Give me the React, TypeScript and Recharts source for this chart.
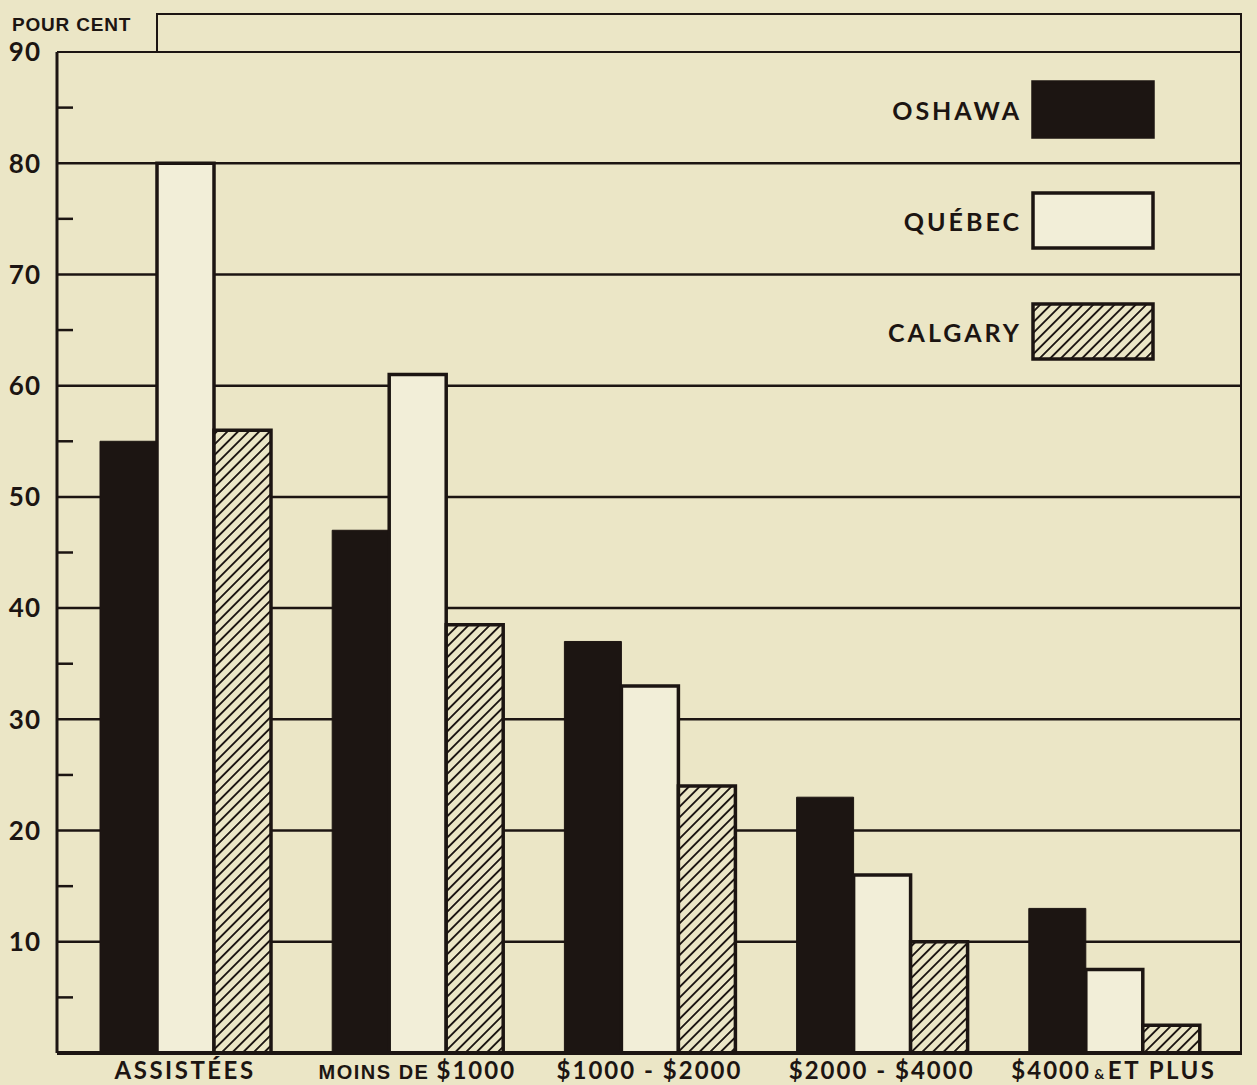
import React from "react";
import {
  BarChart,
  Bar,
  XAxis,
  YAxis,
  CartesianGrid,
  Legend,
} from "recharts";

// values read off the scan (per cent)
const categories = [
  "ASSISTÉES",
  "MOINS DE $1000",
  "$1000 - $2000",
  "$2000 - $4000",
  "$4000 & ET PLUS",
];
const oshawa = [55, 47, 37, 23, 13];
const quebec = [80, 61, 33, 16, 7.5];
const calgary = [56, 38.5, 24, 10, 2.5];

const yTicks = [0, 5, 10, 15, 20, 25, 30, 35, 40, 45, 50, 55, 60, 65, 70, 75, 80, 85, 90];
const gridValues = [10, 20, 30, 40, 50, 60, 70, 80];

const INK = "#1c1512";
const PAPER = "#ebe6c6";
const LIGHT = "#f2eed8";
const FONT = "Lato, 'DejaVu Sans', sans-serif";
const NARROW = "'Liberation Sans Narrow', 'Liberation Sans', sans-serif";

const data = categories.map((name, i) => ({
  name,
  oshawa: oshawa[i],
  quebec: quebec[i],
  calgary: calgary[i],
}));

const series = [
  { key: "oshawa", name: "OSHAWA", fill: INK },
  { key: "quebec", name: "QUÉBEC", fill: LIGHT },
  { key: "calgary", name: "CALGARY", fill: "url(#hatch)" },
];

const HatchDef = ({ id }: { id: string }) => (
  <defs>
    <pattern id={id} width={7.5} height={7.5} patternUnits="userSpaceOnUse" patternTransform="rotate(45)">
      <rect width={7.5} height={7.5} fill={PAPER} />
      <line x1={0} y1={0} x2={0} y2={7.5} stroke={INK} strokeWidth={3.8} />
    </pattern>
  </defs>
);

const YTick = ({ x, y, payload }: any) => {
  const v = payload.value;
  if (v % 10 !== 0) {
    return <line x1={x} x2={x + 16} y1={y} y2={y} stroke={INK} strokeWidth={2.5} />;
  }
  if (v === 0) return <g />;
  return (
    <text x={x - 16} y={y} dy="0.36em" textAnchor="end" fill={INK} fontFamily={FONT} fontWeight={700} fontSize={26} letterSpacing={1}>
      {v}
    </text>
  );
};

const XTick = ({ x, y, payload }: any) => {
  const label: string = payload.value;
  const big = { fontFamily: FONT, fontWeight: 700, fontSize: 24 } as const;
  let parts: React.ReactNode;
  if (label.startsWith("MOINS DE ")) {
    parts = (
      <>
        <tspan fontFamily={NARROW} fontWeight={700} fontSize={20} letterSpacing={1.5}>MOINS DE </tspan>
        <tspan {...big} letterSpacing={2}>{label.replace("MOINS DE ", "")}</tspan>
      </>
    );
  } else if (label.includes(" & ")) {
    const [a, b] = label.split(" & ");
    parts = (
      <>
        <tspan {...big} letterSpacing={2}>{a}</tspan>
        <tspan fontFamily={FONT} fontWeight={700} fontSize={14}> & </tspan>
        <tspan {...big} letterSpacing={2.5}>{b}</tspan>
      </>
    );
  } else {
    parts = <tspan {...big} letterSpacing={label === "ASSISTÉES" ? 2.5 : 2}>{label}</tspan>;
  }
  return (
    <text x={x} y={y + 26} textAnchor="middle" fill={INK}>
      {parts}
    </text>
  );
};

const LegendContent = () => (
  <div>
    {series.map((s) => (
      <div
        key={s.key}
        style={{ display: "flex", alignItems: "center", justifyContent: "flex-end", height: 59, marginBottom: 52 }}
      >
        <span
          style={{ fontFamily: FONT, fontWeight: 700, fontSize: 25, letterSpacing: 3, color: INK, marginRight: 9 }}
        >
          {s.name}
        </span>
        <svg width={124} height={59}>
          {s.key === "calgary" && <HatchDef id="hatchLegend" />}
          <rect
            x={2}
            y={2}
            width={120}
            height={55}
            fill={s.key === "calgary" ? "url(#hatchLegend)" : s.fill}
            stroke={INK}
            strokeWidth={3.5}
          />
        </svg>
      </div>
    ))}
  </div>
);

export default function App() {
  return (
    <div style={{ position: "absolute", left: 0, top: 0, width: 1257, height: 1085, background: PAPER, overflow: "hidden" }}>
      <BarChart
        width={1257}
        height={1085}
        data={data}
        margin={{ top: 52, right: 15, left: 12, bottom: 2 }}
        barSize={57}
        barGap={0}
      >
        <HatchDef id="hatch" />
        <CartesianGrid
          vertical={false}
          stroke={INK}
          strokeWidth={2.5}
          horizontalCoordinatesGenerator={({ yAxis, offset }: any) =>
            gridValues.map((v) =>
              yAxis && typeof yAxis.scale === "function"
                ? yAxis.scale(v)
                : offset.top + offset.height * (1 - v / 90)
            )
          }
        />
        <XAxis
          dataKey="name"
          height={30}
          padding={{ left: 12, right: 12 }}
          tickSize={0}
          tickMargin={0}
          tickLine={false}
          axisLine={{ stroke: INK, strokeWidth: 4 }}
          tick={<XTick />}
          interval={0}
        />
        <YAxis
          width={45}
          domain={[0, 90]}
          ticks={yTicks}
          interval={0}
          tickSize={0}
          tickMargin={0}
          tickLine={false}
          axisLine={{ stroke: INK, strokeWidth: 3 }}
          tick={<YTick />}
        />
        <Legend
          layout="horizontal"
          verticalAlign="middle"
          align="center"
          content={<LegendContent />}
          wrapperStyle={{ left: 860, top: 80, width: 295, height: 300 }}
        />
        {series.map((s) => (
          <Bar
            key={s.key}
            dataKey={s.key}
            name={s.name}
            fill={s.fill}
            stroke={INK}
            strokeWidth={s.key === "oshawa" ? 1 : 3.5}
            isAnimationActive={false}
          />
        ))}
      </BarChart>
      {/* frame: top border of the plot, right border, and the raised box over the heading */}
      <div
        style={{
          position: "absolute",
          left: 57,
          top: 51,
          width: 1185,
          height: 1002,
          borderTop: `2.5px solid ${INK}`,
          borderRight: `2.5px solid ${INK}`,
          boxSizing: "border-box",
          pointerEvents: "none",
        }}
      />
      <div
        style={{
          position: "absolute",
          left: 156,
          top: 13,
          width: 1086,
          height: 40,
          borderTop: `2.5px solid ${INK}`,
          borderLeft: `2.5px solid ${INK}`,
          borderRight: `2.5px solid ${INK}`,
          boxSizing: "border-box",
          pointerEvents: "none",
        }}
      />
      <div
        style={{
          position: "absolute",
          left: 12,
          top: 14,
          fontFamily: NARROW,
          fontWeight: 700,
          fontSize: 19,
          letterSpacing: 0.8,
          color: INK,
        }}
      >
        POUR CENT
      </div>
    </div>
  );
}
